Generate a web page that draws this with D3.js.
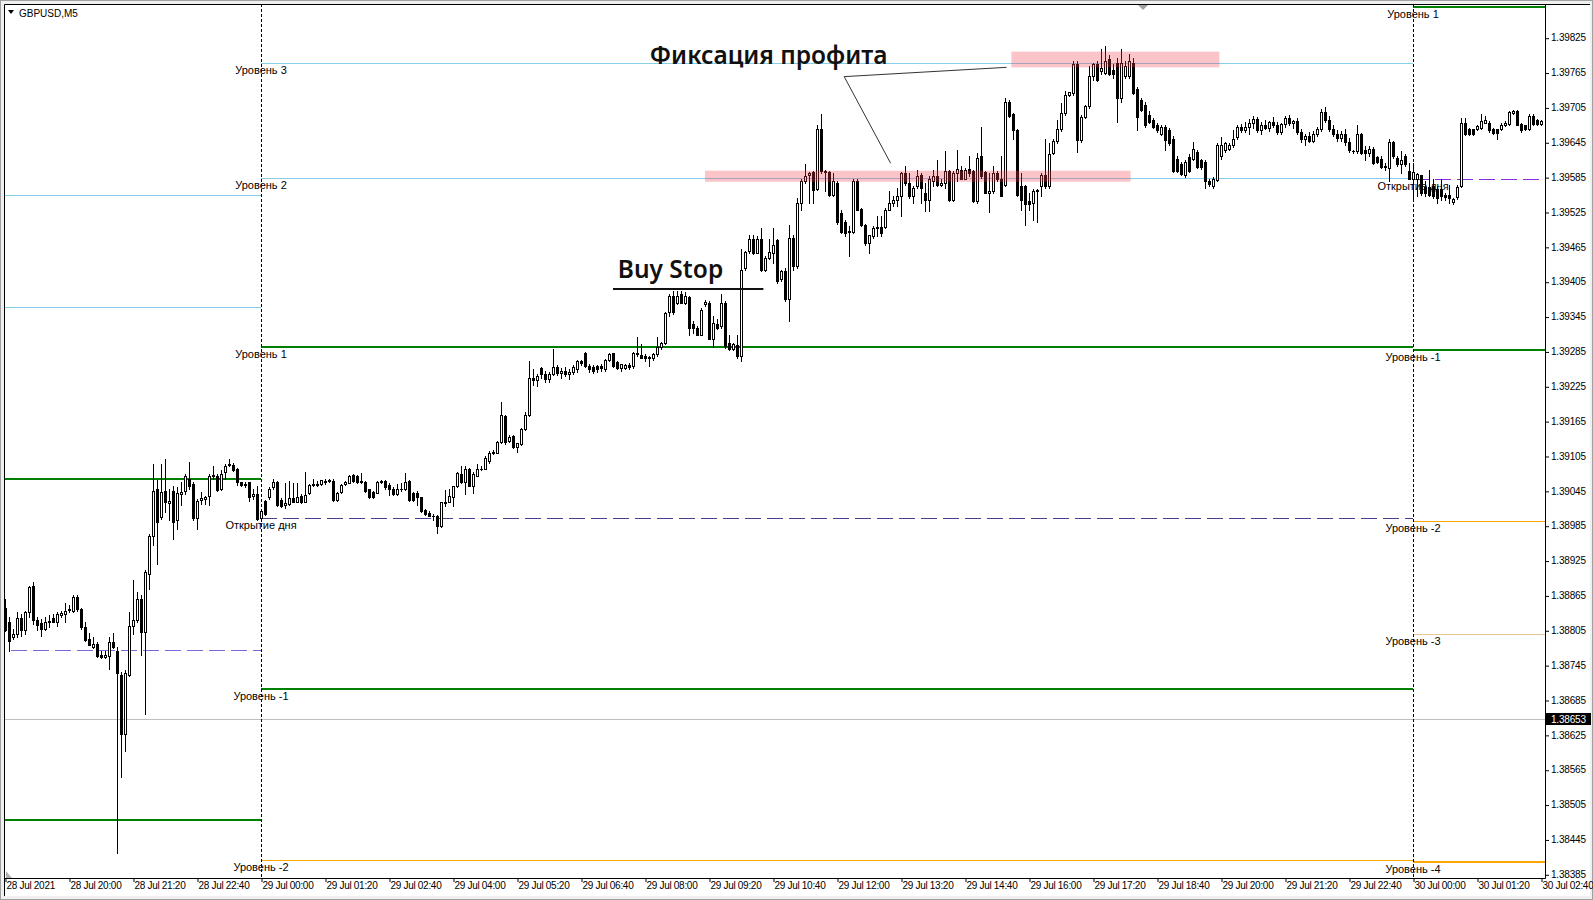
<!DOCTYPE html>
<html>
<head>
<meta charset="utf-8">
<title>GBPUSD,M5</title>
<script src="https://cdn.jsdelivr.net/npm/d3@7"></script>
<style>
  body { margin: 0; background: #fff; }
  svg { display: block; }
  .axis text { font-family: "Liberation Sans", Arial, sans-serif; font-size: 10px; fill: #000; }
  .lvl { font-family: "Liberation Sans", Arial, sans-serif; font-size: 11px; fill: #000; }
  .note { font-family: "Noto Sans", "Open Sans", sans-serif; font-weight: 600; font-size: 24.5px; fill: #111; }
</style>
</head>
<body>
<svg id="chart" width="1593" height="900"></svg>
<script>
// all prices below are in points (0.00001) above BASE
var BASE = 1.38, PT = 0.00001;
var firstBar = "2021-07-28 18:40";   // M5 bars, one every 5 minutes

var opens = [
  // 28 Jul 18:40 - 29 Jul 00:00
  843,819,793,799,826,805,836,881,822,818, 808,820,826,820,832,833,840,839,862,842,
  810,790,776,782,762,759,761,785,770,728, 627,728,812,822,859,802,902,967,1048,1000,
  1044,1024,1045,994,1040,1044,1065,1057,998,1030, 1031,1036,1071,1071,1048,1077,1090,1090,1083,1060,
  1055,1060,1037,1040,998,
  // 29 Jul 00:05 - 05:35
  1028,1034,1051,1061,1030,1020,1022,1032,1026,1037, 1026,1042,1055,1055,1057,1061,1064,1062,1030,1043,
  1057,1059,1072,1070,1062,1061,1048,1043,1042,1061, 1062,1055,1049,1039,1049,1049,1062,1041,1042,1034,
  1012,1007,1002,1002,984,1025,1026,1034,1054,1074, 1061,1083,1054,1071,1083,1083,1097,1110,1111,1129,
  1173,1131,1140,1121,1125,1151,1175,
  // 05:40 - 11:00
  1240,1235,1256,1246,1238,1247,1258,1248,1252,1246, 1250,1254,1268,1283,1260,1258,1260,1260,1254,1271,
  1282,1266,1257,1257,1262,1260,1283,1278,1277,1276, 1273,1280,1292,1300,1352,1381,1369,1383,1369,1379,
  1333,1326,1314,1366,1369,1307,1333,1329,1368,1299, 1290,1296,1277,1429,1458,1478,1455,1479,1426,1446,
  1455,1477,1409,1423,1375,
  // 11:05 - 16:35
  1481,1432,1541,1578,1588,1593,1564,1667,1596,1593, 1555,1575,1524,1507,1490,1490,1579,1530,1503,1471,
  1483,1498,1499,1499,1529,1541,1545,1552,1592,1575, 1552,1569,1589,1557,1546,1578,1587,1572,1575,1595,
  1546,1592,1598,1582,1599,1595,1544,1621,1593,1558, 1561,1592,1581,1572,1715,1693,1666,1570,1569,1544,
  1540,1561,1569,1589,1569,1627,1647,
  // 16:40 - 22:40
  1668,1695,1727,1730,1779,1649,1689,1707,1759,1779, 1767,1765,1788,1770,1782,1721,1759,1759,1782,1736,
  1718,1710,1692,1683,1675,1660,1672,1666,1651,1617, 1608,1588,1620,1617,1628,1614,1611,1579,1570,1580,
  1622,1631,1634,1640,1654,1672,1666,1672,1678,1685, 1666,1675,1670,1680,1674,1663,1676,1686,1678,1682,
  1662,1650,1655,1648,1660,1668,1697,1684,1668,1660, 1652,1660,1645,
  // 22:45 - 30 Jul 02:40
  1630,1630,1659,1632,1626,1634,1620,1616,1603,1601, 1645,1618,1607,1621,1595,1582,1581,1588,1568,1568,
  1569,1565,1565,1555,1555,1542,1551,1569,1678,1667, 1667,1668,1670,1679,1679,1668,1667,1667,1675,1677,
  1695,1698,1677,1674,1667,1691,1683,1677
];
var highs = [
  859,828,808,836,833,839,882,888,828,825, 828,831,833,836,839,852,848,865,865,843,
  820,801,793,785,770,770,793,801,776,733, 736,836,891,871,865,908,971,1091,1063,1091,
  1100,1048,1054,1051,1060,1074,1094,1060,1031,1043, 1037,1074,1088,1074,1081,1091,1100,1093,1085,1061,
  1060,1060,1049,1054,1012,
  1030,1051,1066,1062,1032,1059,1062,1058,1059,1039, 1078,1057,1065,1062,1064,1065,1066,1065,1043,1057,
  1062,1073,1074,1073,1075,1062,1049,1045,1062,1064, 1063,1058,1051,1057,1058,1075,1064,1043,1045,1035,
  1014,1011,1005,1003,1026,1047,1048,1054,1077,1088, 1087,1085,1077,1091,1088,1105,1114,1116,1131,1198,
  1175,1141,1141,1128,1154,1180,1269,
  1255,1247,1258,1252,1250,1289,1262,1256,1258,1254, 1262,1271,1270,1284,1264,1262,1262,1264,1272,1283,
  1283,1268,1264,1264,1265,1284,1309,1297,1280,1277, 1283,1310,1301,1352,1383,1389,1389,1389,1387,1381,
  1337,1329,1360,1374,1372,1346,1340,1383,1372,1314, 1300,1314,1461,1458,1485,1486,1484,1498,1449,1479,
  1498,1479,1426,1429,1502,
  1486,1549,1581,1608,1593,1595,1674,1693,1598,1595, 1592,1578,1529,1512,1501,1581,1581,1532,1505,1486,
  1501,1518,1518,1532,1561,1552,1567,1593,1604,1592, 1569,1598,1592,1575,1587,1598,1615,1581,1630,1598,
  1595,1632,1604,1601,1621,1598,1627,1671,1595,1592, 1604,1595,1622,1721,1718,1695,1668,1592,1572,1558,
  1564,1564,1592,1650,1644,1650,1684,
  1712,1733,1731,1785,1785,1692,1710,1777,1782,1785, 1805,1811,1795,1780,1790,1805,1785,1797,1790,1740,
  1722,1714,1698,1686,1678,1675,1675,1669,1655,1622, 1611,1614,1625,1646,1632,1617,1614,1582,1585,1643,
  1654,1646,1643,1666,1675,1677,1680,1685,1690,1688, 1680,1684,1682,1688,1680,1678,1690,1692,1684,1686,
  1668,1660,1662,1665,1672,1702,1705,1690,1675,1666, 1665,1668,1652,
  1632,1674,1661,1638,1638,1637,1622,1621,1610,1650, 1647,1621,1630,1624,1610,1610,1592,1589,1578,1597,
  1581,1569,1581,1558,1572,1549,1572,1687,1687,1670, 1668,1674,1693,1690,1681,1670,1668,1678,1681,1698,
  1700,1701,1679,1675,1693,1693,1685,1684
];
var lows = [
  803,770,790,793,796,799,828,816,805,796, 805,810,819,812,828,819,836,837,839,808,
  787,779,774,759,757,757,739,775,421,553, 598,727,799,819,762,661,876,951,919,997,
  1008,994,962,979,1020,1040,1048,994,979,1022, 1022,1020,1065,1045,1047,1065,1087,1080,1055,1053,
  1051,1028,1031,994,994,
  1003,1031,1048,1019,1018,1016,1020,1025,1025,1024, 1025,1039,1053,1054,1055,1057,1061,1028,1028,1042,
  1055,1058,1061,1059,1059,1043,1032,1032,1041,1058, 1049,1038,1038,1038,1045,1047,1028,1028,1020,1009,
  1003,1001,994,973,982,1019,1025,1019,1051,1059, 1039,1053,1041,1070,1081,1082,1093,1108,1110,1128,
  1125,1129,1118,1112,1124,1150,1173,
  1228,1226,1240,1232,1233,1245,1244,1240,1243,1238, 1246,1250,1262,1258,1250,1248,1250,1252,1252,1268,
  1258,1255,1252,1254,1255,1256,1277,1273,1269,1260, 1271,1277,1290,1297,1346,1349,1366,1368,1366,1314,
  1317,1313,1313,1363,1306,1293,1323,1326,1291,1288, 1288,1274,1269,1426,1454,1452,1454,1423,1423,1444,
  1438,1403,1406,1372,1337,
  1425,1428,1529,1575,1541,1541,1563,1592,1561,1553, 1553,1505,1488,1483,1449,1488,1528,1501,1469,1455,
  1481,1483,1483,1498,1528,1535,1535,1518,1572,1549, 1541,1566,1541,1526,1526,1569,1569,1569,1566,1544,
  1544,1578,1581,1581,1587,1542,1541,1584,1557,1525, 1558,1578,1552,1569,1689,1650,1553,1529,1503,1529,
  1512,1507,1552,1566,1566,1624,1644,
  1665,1692,1725,1727,1628,1646,1686,1704,1753,1750, 1762,1762,1760,1755,1680,1715,1755,1755,1728,1666,
  1698,1672,1678,1670,1663,1657,1631,1640,1594,1593, 1588,1585,1594,1614,1600,1599,1567,1570,1567,1578,
  1617,1628,1631,1637,1651,1663,1663,1660,1670,1662, 1660,1668,1665,1672,1660,1660,1672,1675,1670,1660,
  1645,1640,1646,1645,1655,1665,1680,1665,1655,1648, 1648,1640,1628,
  1627,1627,1624,1615,1622,1607,1610,1601,1597,1578, 1618,1605,1592,1605,1581,1548,1552,1555,1552,1552,
  1549,1541,1546,1546,1541,1538,1548,1568,1658,1658, 1658,1666,1668,1678,1662,1660,1650,1666,1673,1675,
  1693,1674,1662,1666,1666,1675,1674,1675
];
var closes = [
  805,787,799,826,805,836,879,822,814,808, 819,821,820,833,834,839,842,862,841,810,
  789,780,782,761,759,763,785,777,732,627, 732,812,822,859,802,905,967,1044,992,1043,
  1025,1028,992,1041,1043,1070,1054,998,1028,1032, 1034,1071,1073,1047,1074,1087,1091,1081,1060,1055,
  1057,1034,1040,997,1011,
  1005,1049,1061,1020,1019,1024,1032,1026,1034,1026, 1038,1055,1057,1057,1063,1062,1062,1030,1041,1055,
  1061,1071,1062,1061,1061,1045,1034,1034,1061,1062, 1051,1049,1039,1048,1049,1061,1030,1030,1034,1011,
  1005,1002,1002,984,1025,1026,1037,1053,1075,1061, 1083,1054,1074,1083,1083,1102,1111,1112,1129,1175,
  1129,1138,1120,1127,1151,1175,1240,
  1235,1243,1246,1238,1247,1258,1248,1252,1246,1250, 1258,1268,1265,1260,1254,1252,1254,1256,1271,1281,
  1260,1257,1263,1262,1258,1283,1280,1274,1273,1273, 1280,1292,1300,1351,1380,1352,1381,1369,1381,1326,
  1326,1314,1356,1370,1307,1334,1326,1369,1294,1290, 1297,1277,1426,1456,1478,1454,1478,1425,1446,1456,
  1469,1406,1423,1375,1481,
  1432,1541,1578,1587,1592,1562,1667,1595,1593,1555, 1578,1507,1490,1488,1492,1578,1529,1503,1471,1485,
  1498,1499,1488,1529,1541,1546,1552,1592,1575,1552, 1566,1587,1566,1546,1581,1587,1572,1575,1595,1546,
  1592,1599,1582,1598,1592,1544,1618,1587,1558,1561, 1592,1581,1553,1715,1691,1666,1555,1546,1538,1538,
  1561,1563,1589,1569,1624,1647,1667,
  1695,1727,1731,1779,1649,1689,1707,1759,1779,1753, 1773,1785,1762,1762,1721,1782,1776,1785,1730,1689,
  1701,1675,1680,1672,1666,1672,1649,1643,1596,1596, 1591,1611,1596,1634,1602,1602,1579,1573,1582,1640,
  1640,1643,1640,1651,1672,1666,1672,1678,1685,1666, 1675,1670,1680,1674,1663,1676,1686,1678,1682,1662,
  1650,1655,1648,1660,1668,1697,1684,1668,1660,1652, 1660,1645,1632,
  1630,1659,1627,1626,1634,1610,1611,1603,1605,1645, 1621,1607,1614,1607,1582,1593,1591,1558,1557,1555,
  1552,1549,1553,1551,1549,1548,1568,1679,1660,1660, 1660,1673,1681,1683,1666,1661,1661,1675,1678,1697,
  1698,1675,1666,1667,1690,1677,1677,1681
];

var priceTicks = [385,445,505,565,625,685,745,805,865,925,985,1045,1105,1165,1225,1285,1345,1405,1465,1525,1585,1645,1705,1765,1825];
var lastPrice = 653;

var timeTickValues = ["2021-07-28 18:40","2021-07-28 20:00","2021-07-28 21:20","2021-07-28 22:40","2021-07-29 00:00",
  "2021-07-29 01:20","2021-07-29 02:40","2021-07-29 04:00","2021-07-29 05:20","2021-07-29 06:40","2021-07-29 08:00",
  "2021-07-29 09:20","2021-07-29 10:40","2021-07-29 12:00","2021-07-29 13:20","2021-07-29 14:40","2021-07-29 16:00",
  "2021-07-29 17:20","2021-07-29 18:40","2021-07-29 20:00","2021-07-29 21:20","2021-07-29 22:40","2021-07-30 00:00",
  "2021-07-30 01:20","2021-07-30 02:40"];
var timeTickLabels = ["28 Jul 2021","28 Jul 20:00","28 Jul 21:20","28 Jul 22:40","29 Jul 00:00","29 Jul 01:20",
  "29 Jul 02:40","29 Jul 04:00","29 Jul 05:20","29 Jul 06:40","29 Jul 08:00","29 Jul 09:20","29 Jul 10:40",
  "29 Jul 12:00","29 Jul 13:20","29 Jul 14:40","29 Jul 16:00","29 Jul 17:20","29 Jul 18:40","29 Jul 20:00",
  "29 Jul 21:20","29 Jul 22:40","30 Jul 00:00","30 Jul 01:20","30 Jul 02:40"];

// daily pivot levels (28 Jul ones start off-chart)
var levelNames  = ["","","","","", "Уровень 3","Уровень 2","Уровень 1","Открытие дня","Уровень -1","Уровень -2",
                   "Уровень 1","Открытие дня","Уровень -1","Уровень -2","Уровень -3","Уровень -4"];
var levelPrices = [1555,1361,1065,771,479, 1782,1584,1293,998,704,409, 1877,1582,1287,993,799,406];
var levelKinds  = ["minor","minor","main","openOld","main", "minor","minor","main","openMid","main","low",
                   "main","open","main","low","low3","lowBold"];
var levelFrom = ["2021-07-28 00:00","2021-07-28 00:00","2021-07-28 00:00","2021-07-28 00:00","2021-07-28 00:00",
  "2021-07-29 00:00","2021-07-29 00:00","2021-07-29 00:00","2021-07-29 00:00","2021-07-29 00:00","2021-07-29 00:00",
  "2021-07-30 00:00","2021-07-30 00:00","2021-07-30 00:00","2021-07-30 00:00","2021-07-30 00:00","2021-07-30 00:00"];
var levelTo = ["2021-07-29 00:00","2021-07-29 00:00","2021-07-29 00:00","2021-07-29 00:00","2021-07-29 00:00",
  "2021-07-30 00:00","2021-07-30 00:00","2021-07-30 00:00","2021-07-30 00:00","2021-07-30 00:00","2021-07-30 00:00",
  "2021-07-31 00:00","2021-07-31 00:00","2021-07-31 00:00","2021-07-31 00:00","2021-07-31 00:00","2021-07-31 00:00"];
var daySeparators = ["2021-07-29 00:00", "2021-07-30 00:00"];

// hand-drawn annotations
var boxFrom = ["2021-07-29 15:38", "2021-07-29 09:15"];
var boxTo = ["2021-07-29 19:58", "2021-07-29 18:07"];
var boxTop = [1801, 1596];
var boxBottom = [1774, 1577];
var calloutTimes = ["2021-07-29 15:32", "2021-07-29 12:09", "2021-07-29 13:07"];
var calloutPrices = [1774, 1758, 1609];
var noteTexts = ["Фиксация профита", "Buy Stop"];
var noteTimes = ["2021-07-29 08:06", "2021-07-29 07:26"];
var notePrices = [1780, 1411];
var underlineTimes = ["2021-07-29 07:20", "2021-07-29 10:28"];
var underlinePrice = 1393;

var parse = d3.timeParse("%Y-%m-%d %H:%M");
var W = 1593, H = 900;
var plot = {left: 4, top: 4, right: 1545, bottom: 878};

var x = d3.scaleTime()
    .domain([parse("2021-07-28 18:40"), parse("2021-07-30 02:45")])
    .range([5, plot.right]);
var y = d3.scaleLinear()
    .domain([BASE + 385 * PT, BASE + 1825 * PT])
    .range([874.3, 37.7]);
function py(v) { return y(BASE + v * PT); }
function px(s) { return x(parse(s)); }

var svg = d3.select("#chart");

// window frame
svg.append("rect").attr("width", W).attr("height", H).attr("fill", "#f0f0f0");
svg.append("rect").attr("x", 0.5).attr("y", 0.5).attr("width", W - 1).attr("height", H - 1)
    .attr("fill", "none").attr("stroke", "#a0a0a0");
svg.append("rect").attr("x", 4).attr("y", 4).attr("width", W - 7).attr("height", H - 8).attr("fill", "#fff");

svg.append("defs").append("clipPath").attr("id", "plotClip")
  .append("rect").attr("x", plot.left + 1).attr("y", plot.top + 1)
    .attr("width", plot.right - plot.left - 1).attr("height", plot.bottom - plot.top - 1);

var chart = svg.append("g").attr("clip-path", "url(#plotClip)");

// current bid line
chart.append("line")
    .attr("x1", plot.left).attr("x2", plot.right)
    .attr("y1", Math.round(py(lastPrice)) + 0.5).attr("y2", Math.round(py(lastPrice)) + 0.5)
    .attr("stroke", "#c0c0c0");

// level lines and their labels
var levelStyle = {
  minor:   {color: "#87ceeb", width: 1},
  main:    {color: "#008000", width: 2},
  openOld: {color: "#7b68d8", width: 1, dash: "16,6"},
  openMid: {color: "#483d8b", width: 1, dash: "16,6"},
  open:    {color: "#8a2be2", width: 1, dash: "16,6"},
  low:     {color: "#ffa500", width: 1},
  low3:    {color: "#e8c89a", width: 1},
  lowBold: {color: "#ffa500", width: 2}
};
var levels = levelPrices.map(function (p, i) {
  return {name: levelNames[i], price: p, kind: levelKinds[i], from: levelFrom[i], to: levelTo[i]};
});
chart.selectAll("line.level").data(levels).join("line")
    .attr("class", "level")
    .attr("x1", function (d) { return Math.round(px(d.from)); })
    .attr("x2", function (d) { return Math.round(px(d.to)); })
    .attr("y1", function (d) { var s = levelStyle[d.kind]; return Math.round(py(d.price)) + (s.width % 2 ? 0.5 : 0); })
    .attr("y2", function (d) { var s = levelStyle[d.kind]; return Math.round(py(d.price)) + (s.width % 2 ? 0.5 : 0); })
    .attr("stroke", function (d) { return levelStyle[d.kind].color; })
    .attr("stroke-width", function (d) { return levelStyle[d.kind].width; })
    .attr("stroke-dasharray", function (d) { return levelStyle[d.kind].dash || null; });

chart.selectAll("text.lvl").data(levels.filter(function (d) { return d.name; })).join("text")
    .attr("class", "lvl")
    .attr("x", function (d) { return px(d.from); })
    .attr("y", function (d) { return Math.round(py(d.price)) + 11; })
    .attr("text-anchor", "middle")
    .text(function (d) { return d.name; });

// day separators
chart.selectAll("line.sep").data(daySeparators).join("line")
    .attr("class", "sep")
    .attr("x1", function (d) { return Math.round(px(d)) + 0.5; })
    .attr("x2", function (d) { return Math.round(px(d)) + 0.5; })
    .attr("y1", plot.top).attr("y2", plot.bottom)
    .attr("stroke", "#000").attr("stroke-dasharray", "3,2");

// candles
var t0 = parse(firstBar);
var bars = opens.map(function (o, i) {
  return {t: d3.timeMinute.offset(t0, 5 * i), o: o, h: highs[i], l: lows[i], c: closes[i]};
});
var candle = chart.append("g").selectAll("g").data(bars).join("g");

candle.append("line")
    .attr("x1", function (d) { return Math.round(x(d.t)) + 0.5; })
    .attr("x2", function (d) { return Math.round(x(d.t)) + 0.5; })
    .attr("y1", function (d) { return Math.round(py(Math.max(d.h, d.o, d.c))); })
    .attr("y2", function (d) { return Math.round(py(Math.min(d.l, d.o, d.c))) + 1; })
    .attr("stroke", "#000");

candle.append("rect")
    .attr("x", function (d) { return Math.round(x(d.t)) - (d.c > d.o ? 0.5 : 1); })
    .attr("y", function (d) { return Math.round(py(Math.max(d.o, d.c))) + (d.c > d.o ? 0.5 : 0); })
    .attr("width", function (d) { return d.c > d.o ? 2 : 3; })
    .attr("height", function (d) {
      var h = Math.round(py(Math.min(d.o, d.c))) - Math.round(py(Math.max(d.o, d.c)));
      return Math.max(1, d.c > d.o ? h : h + 1);
    })
    .attr("fill", function (d) { return d.c > d.o ? "#fff" : "#000"; })
    .attr("stroke", function (d) { return d.c > d.o ? "#000" : "none"; });

// highlighted zones
chart.selectAll("rect.zone").data(boxTop).join("rect")
    .attr("class", "zone")
    .attr("x", function (d, i) { return px(boxFrom[i]); })
    .attr("width", function (d, i) { return px(boxTo[i]) - px(boxFrom[i]); })
    .attr("y", function (d) { return py(d); })
    .attr("height", function (d, i) { return py(boxBottom[i]) - py(d); })
    .attr("fill", "rgba(240,60,75,0.3)");

// callout lines from the note to both zones
chart.append("path")
    .attr("d", d3.line()(calloutTimes.map(function (t, i) { return [px(t), py(calloutPrices[i])]; })))
    .attr("fill", "none").attr("stroke", "#333").attr("stroke-width", 1);

chart.selectAll("text.note").data(noteTexts).join("text")
    .attr("class", "note")
    .attr("x", function (d, i) { return px(noteTimes[i]); })
    .attr("y", function (d, i) { return py(notePrices[i]); })
    .text(function (d) { return d; });

chart.append("line")
    .attr("x1", px(underlineTimes[0])).attr("x2", px(underlineTimes[1]))
    .attr("y1", Math.round(py(underlinePrice))).attr("y2", Math.round(py(underlinePrice)))
    .attr("stroke", "#111").attr("stroke-width", 2);

// axes
var xAxis = svg.append("g").attr("class", "axis")
    .attr("transform", "translate(0," + plot.bottom + ")")
    .call(d3.axisBottom(x)
      .tickValues(timeTickValues.map(parse))
      .tickSize(4).tickPadding(0)
      .tickFormat(function (d, i) { return timeTickLabels[i]; }));
xAxis.select(".domain").remove();
xAxis.selectAll(".tick line").attr("transform", "translate(0.5,0)");
xAxis.selectAll(".tick text").attr("text-anchor", "start").attr("x", 1).attr("letter-spacing", "-0.3");

var yAxis = svg.append("g").attr("class", "axis")
    .attr("transform", "translate(" + plot.right + ",0)")
    .call(d3.axisRight(y)
      .tickValues(priceTicks.map(function (v) { return BASE + v * PT; }))
      .tickSize(4).tickPadding(2)
      .tickFormat(d3.format(".5f")));
yAxis.select(".domain").remove();
yAxis.selectAll(".tick line").attr("transform", "translate(0,0.5)");
yAxis.selectAll(".tick text").attr("letter-spacing", "-0.2");

// plot frame
svg.append("path")
    .attr("d", "M" + (plot.left + 0.5) + "," + (H - 4) + "V" + (plot.top + 0.5) + "H" + (W - 3))
    .attr("fill", "none").attr("stroke", "#000");
svg.append("path")
    .attr("d", "M" + (plot.left) + "," + (plot.bottom + 0.5) + "H" + (plot.right + 0.5) + "V" + plot.top)
    .attr("fill", "none").attr("stroke", "#000");

// last price tag
var lp = Math.round(py(lastPrice));
svg.append("rect").attr("x", plot.right + 1).attr("y", lp - 6).attr("width", 45).attr("height", 12).attr("fill", "#000");
svg.append("text").attr("class", "axis").attr("x", plot.right + 6).attr("y", lp + 4)
    .attr("fill", "#fff").attr("font-family", "Liberation Sans, Arial, sans-serif")
    .attr("font-size", 10).attr("letter-spacing", "-0.2")
    .text(d3.format(".5f")(BASE + lastPrice * PT));

// symbol caption and small chart markers
svg.append("path").attr("d", "M8,10H14L11,14Z").attr("fill", "#000");
svg.append("text").attr("x", 19).attr("y", 17)
    .attr("font-family", "Liberation Sans, Arial, sans-serif").attr("font-size", 10)
    .text("GBPUSD,M5");
svg.append("path").attr("d", "M1138,5H1148L1143,10Z").attr("fill", "#a0a0a0");
svg.append("path").attr("d", "M6,871V878H12Z").attr("fill", "#b0b0b0");
</script>
</body>
</html>
